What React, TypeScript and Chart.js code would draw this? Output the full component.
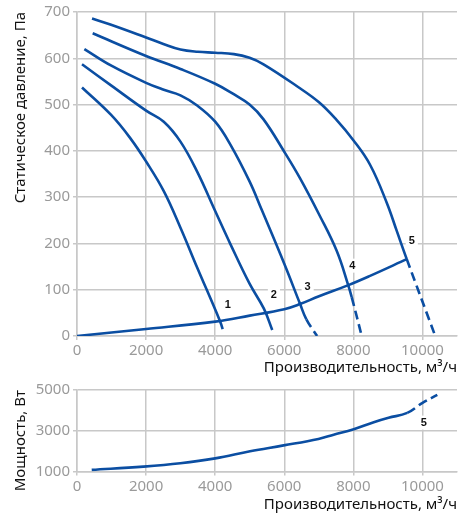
import React, { useEffect, useRef } from 'react';
import { Chart, registerables } from 'chart.js';
Chart.register(...registerables);

// ---- Data ----
const curve1X = [145, 995, 1546, 2000, 2512, 2995, 3478, 4135, 4250];
const curve1Y = [537, 477, 427, 377, 313, 234, 148, 33, 7];
const curve1Solid = 8; // number of points in the solid part

const curve2X = [145, 995, 2000, 2512, 2995, 3478, 4000, 4444, 4995, 5410, 5652];
const curve2Y = [587, 541, 487, 463, 420, 355, 270, 198, 113, 59, 13];
const curve2Solid = 11;

const curve3X = [213, 995, 2000, 2512, 2995, 3478, 4000, 4444, 4995, 5350, 6000, 6454, 6640, 6950];
const curve3Y = [620, 584, 547, 532, 520, 498, 463, 413, 334, 272, 156, 70, 36, 0];
const curve3Solid = 13;

const curve4X = [454, 2000, 2995, 4000, 4500, 4995, 5400, 6000, 6454, 7005, 7517, 7855, 7952, 8242];
const curve4Y = [654, 605, 577, 545, 524, 500, 468, 398, 341, 263, 184, 109, 84, 0];
const curve4Solid = 13;

const curve5X = [435, 966, 2000, 2500, 2995, 3500, 4000, 4541, 4995, 5400, 6400, 7005, 7500, 8000, 8483, 8966, 9256, 9546, 10370];
const curve5Y = [686, 673, 645, 631, 619, 614, 612, 609, 601, 587, 538, 505, 468, 423, 370, 288, 227, 166, 0];
const curve5Solid = 18;

const systemX = [0, 2000, 4000, 5000, 6000, 6454, 7005, 7855, 8483, 9546];
const systemY = [0, 15, 31, 44, 58, 69, 86, 110, 130, 166];

const powerX = [426, 1920, 2990, 4000, 5010, 5980, 6990, 7430, 8010, 8590, 9020, 9560, 9990, 10430];
const powerY = [1082, 1240, 1403, 1643, 1993, 2281, 2600, 2806, 3079, 3420, 3636, 3876, 4355, 4758];
const powerSolid = 12;

const topLabelText = ['1', '2', '3', '4', '5'];
const topLabelX = [4367, 5700, 6676, 7971, 9691];
const topLabelY = [68, 88, 106, 152, 206];

const bottomLabelText = ['5'];
const bottomLabelX = [10040];
const bottomLabelY = [3400];

const xTitle = 'Производительность, м³/ч';
const topYTitle = 'Статическое давление, Па';
const bottomYTitle = 'Мощность, Вт';

// ---- Styles ----
const LINE = '#0b4ea2';
const GRID = '#c8c8c8';
const TICK = '#9a9a9a';
const FONT = '"Noto Sans", "DejaVu Sans", sans-serif';
const DASH = [9, 5];

function pts(xs: number[], ys: number[]) {
  return xs.map((x, i) => ({ x, y: ys[i] }));
}

function curveDataset(xs: number[], ys: number[], solid: number) {
  return {
    data: pts(xs, ys),
    borderColor: LINE,
    borderWidth: 2.6,
    pointRadius: 0,
    fill: false,
    tension: 0.4,
    segment: {
      borderDash: (ctx: any) => (ctx.p1DataIndex >= solid ? DASH : undefined),
    },
  };
}

function labelPlugin(texts: string[], xs: number[], ys: number[]) {
  return {
    id: 'curveLabels',
    afterDatasetsDraw(chart: any) {
      const { ctx, scales } = chart;
      ctx.save();
      ctx.font = 'bold 11px "Liberation Sans", Arial, sans-serif';
      ctx.textAlign = 'center';
      ctx.textBaseline = 'middle';
      texts.forEach((t, i) => {
        const px = scales.x.getPixelForValue(xs[i]);
        const py = scales.y.getPixelForValue(ys[i]);
        const w = ctx.measureText(t).width;
        ctx.fillStyle = '#ffffff';
        ctx.fillRect(px - w / 2 - 3, py - 7, w + 6, 14);
        ctx.fillStyle = '#111111';
        ctx.fillText(t, px, py);
      });
      ctx.restore();
    },
  };
}

function xScale(titlePadBottom: number, axisHeight: number) {
  return {
    type: 'linear' as const,
    min: 0,
    max: 11000,
    afterFit: (s: any) => {
      s.height = axisHeight;
    },
    ticks: {
      stepSize: 1000,
      autoSkip: false,
      maxRotation: 0,
      color: TICK,
      padding: 2,
      font: { family: FONT, size: 15 },
      callback: (v: any) => (v % 2000 === 0 && v <= 10000 ? String(v) : null),
    },
    grid: { color: GRID, lineWidth: 1.5, tickLength: 4 },
    border: { color: GRID, width: 1.5 },
    title: {
      display: true,
      text: xTitle,
      align: 'end' as const,
      color: '#111111',
      font: { family: FONT, size: 15 },
      padding: { top: 0, bottom: titlePadBottom },
    },
  };
}

function yScale(min: number, max: number, step: number, title: string) {
  return {
    type: 'linear' as const,
    min,
    max,
    afterFit: (s: any) => {
      s.width = 77;
    },
    ticks: {
      stepSize: step,
      color: TICK,
      padding: 3,
      font: { family: FONT, size: 15 },
      callback: (v: any) => String(v),
    },
    grid: { color: GRID, lineWidth: 1.5, tickLength: 4 },
    border: { color: GRID, width: 1.5 },
    title: {
      display: true,
      text: title,
      align: 'end' as const,
      color: '#111111',
      font: { family: FONT, size: 15 },
      padding: { top: 12, bottom: 0 },
    },
  };
}

export default function App() {
  const topRef = useRef<HTMLCanvasElement>(null);
  const botRef = useRef<HTMLCanvasElement>(null);

  useEffect(() => {
    const top = new Chart(topRef.current as HTMLCanvasElement, {
      type: 'line',
      data: {
        datasets: [
          curveDataset(curve1X, curve1Y, curve1Solid),
          curveDataset(curve2X, curve2Y, curve2Solid),
          curveDataset(curve3X, curve3Y, curve3Solid),
          curveDataset(curve4X, curve4Y, curve4Solid),
          curveDataset(curve5X, curve5Y, curve5Solid),
          curveDataset(systemX, systemY, systemX.length),
        ] as any,
      },
      options: {
        responsive: false,
        animation: false,
        layout: { padding: { top: 8, right: 7, left: 0, bottom: 0 } },
        scales: {
          x: xScale(1, 42),
          y: yScale(0, 700, 100, topYTitle),
        } as any,
        plugins: { legend: { display: false }, tooltip: { enabled: false } },
      },
      plugins: [labelPlugin(topLabelText, topLabelX, topLabelY)],
    });

    const bot = new Chart(botRef.current as HTMLCanvasElement, {
      type: 'line',
      data: {
        datasets: [curveDataset(powerX, powerY, powerSolid)] as any,
      },
      options: {
        responsive: false,
        animation: false,
        layout: { padding: { top: 10, right: 7, left: 0, bottom: 0 } },
        scales: {
          x: xScale(5, 47.5),
          y: yScale(1000, 5000, 2000, bottomYTitle),
        } as any,
        plugins: { legend: { display: false }, tooltip: { enabled: false } },
      },
      plugins: [labelPlugin(bottomLabelText, bottomLabelX, bottomLabelY)],
    });

    return () => {
      top.destroy();
      bot.destroy();
    };
  }, []);

  return (
    <div style={{ position: 'absolute', left: 0, top: 0, width: 464, height: 519, background: '#fff' }}>
      <canvas ref={topRef} width={464} height={378} style={{ position: 'absolute', left: 0, top: 0 }} />
      <canvas ref={botRef} width={464} height={141} style={{ position: 'absolute', left: 0, top: 378 }} />
    </div>
  );
}
